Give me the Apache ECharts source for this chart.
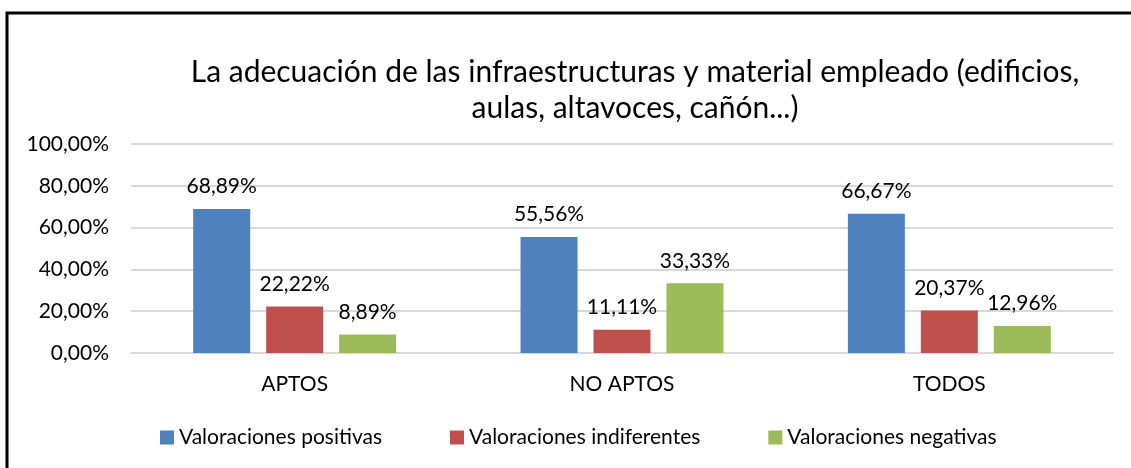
<!DOCTYPE html>
<html lang="es">
<head>
    <meta charset="UTF-8">
    <title>Adecuación de infraestructuras</title>
    <style>
        html, body { margin: 0; padding: 0; background: #fff; }
        #chart { width: 1131px; height: 468px; }
    </style>
</head>
<body>
<div id="chart"></div>
<script src="https://cdn.jsdelivr.net/npm/echarts@6/dist/echarts.min.js"></script>
<script>
    var categories = ['APTOS', 'NO APTOS', 'TODOS'];
    var positivas = [68.89, 55.56, 66.67];
    var indiferentes = [22.22, 11.11, 20.37];
    var negativas = [8.89, 33.33, 12.96];
    var seriesNames = ['Valoraciones positivas', 'Valoraciones indiferentes', 'Valoraciones negativas'];
    var colors = ['#4F81BD', '#C0504D', '#9BBB59'];

    var font = 'Lato, "Liberation Sans", sans-serif';
    var pct = function (v) {
        return v.toFixed(2).replace('.', ',') + '%';
    };

    var makeSeries = function (name, data, color) {
        return {
            name: name,
            type: 'bar',
            data: data,
            barWidth: 57,
            barGap: '28%',
            itemStyle: {color: color},
            label: {
                show: true,
                position: 'top',
                distance: 12,
                color: '#000',
                fontFamily: font,
                fontSize: 21,
                formatter: function (p) { return pct(p.value); }
            }
        };
    };

    var chart = echarts.init(document.getElementById('chart'));
    chart.setOption({
        animation: false,
        color: colors,
        graphic: [{
            type: 'rect',
            shape: {x: 7, y: 13, width: 1200, height: 520},
            style: {fill: 'none', stroke: '#000', lineWidth: 3}
        }],
        title: {
            text: 'La adecuación de las infraestructuras y material empleado (edificios,\naulas, altavoces, cañón...)',
            left: 630,
            top: 49,
            textAlign: 'center',
            textStyle: {
                fontFamily: font,
                fontWeight: 'normal',
                fontSize: 30,
                lineHeight: 36,
                color: '#000'
            }
        },
        legend: {
            bottom: 15,
            left: 155,
            itemWidth: 14,
            itemHeight: 14,
            itemGap: 68,
            itemTextGap: 5,
            icon: 'rect',
            textStyle: {fontFamily: font, fontSize: 21, color: '#000'},
            data: seriesNames
        },
        grid: {left: 131, right: 18, top: 144, bottom: 115},
        xAxis: {
            type: 'category',
            data: categories,
            axisTick: {show: false},
            axisLine: {lineStyle: {color: '#D9D9D9', width: 2}},
            axisLabel: {fontFamily: font, fontSize: 21, color: '#000', margin: 21}
        },
        yAxis: {
            type: 'value',
            min: 0,
            max: 100,
            interval: 20,
            axisLine: {show: false},
            axisTick: {show: false},
            splitLine: {lineStyle: {color: '#D9D9D9', width: 2}},
            axisLabel: {
                fontFamily: font,
                fontSize: 21,
                color: '#000',
                margin: 22,
                formatter: function (v) { return pct(v); }
            }
        },
        series: [
            makeSeries(seriesNames[0], positivas, colors[0]),
            makeSeries(seriesNames[1], indiferentes, colors[1]),
            makeSeries(seriesNames[2], negativas, colors[2])
        ]
    });
</script>
</body>
</html>
